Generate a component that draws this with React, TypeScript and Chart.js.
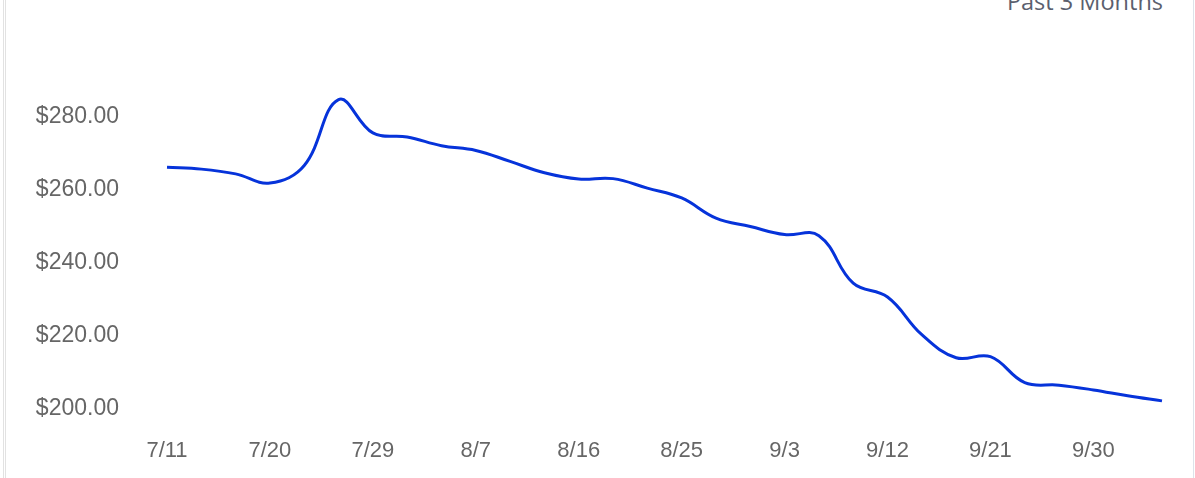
import React, { useEffect, useRef } from "react";
import { Chart, registerables } from "chart.js";

Chart.register(...registerables);

const dates = [
  "7/11", "7/14", "7/17", "7/20", "7/23", "7/26", "7/29", "8/1", "8/4", "8/7",
  "8/10", "8/13", "8/16", "8/19", "8/22", "8/25", "8/28", "8/31", "9/3", "9/6",
  "9/9", "9/12", "9/15", "9/18", "9/21", "9/24", "9/27", "9/30", "10/3", "10/6",
];

const prices = [
  265.3, 264.8, 263.5, 261.0, 265.8, 283.8, 274.7, 273.6, 271.2, 269.9,
  266.9, 263.8, 262.1, 262.2, 259.6, 256.9, 251.4, 249.1, 246.9, 246.6,
  233.6, 229.8, 219.5, 213.2, 213.5, 206.4, 205.7, 204.4, 202.8, 201.4,
];

const yTickValues = [200, 220, 240, 260, 280];
const title = "Past 3 Months";

export default function App() {
  const ref = useRef<HTMLCanvasElement | null>(null);

  useEffect(() => {
    if (!ref.current) return;
    const chart = new Chart(ref.current, {
      type: "line",
      data: {
        labels: dates,
        datasets: [
          {
            data: prices,
            borderColor: "#0633da",
            borderWidth: 3,
            pointRadius: 0,
            pointHoverRadius: 0,
            tension: 0.4,
            fill: false,
          },
        ],
      },
      options: {
        responsive: false,
        animation: false,
        layout: { padding: { top: 77, right: 33, bottom: 0, left: 0 } },
        plugins: { legend: { display: false }, tooltip: { enabled: false } },
        scales: {
          x: {
            offset: false,
            grid: { display: false },
            border: { display: false },
            ticks: {
              autoSkip: false,
              maxRotation: 0,
              color: "#666",
              font: { family: "'Liberation Sans', Arial, sans-serif", size: 22 },
              padding: 24,
              callback: (_v, i) => (i % 3 === 0 ? dates[i] : ""),
            },
            afterFit: (s: any) => {
              s.height = 72;
            },
          },
          y: {
            min: 200,
            max: 290,
            grid: { display: false },
            border: { display: false },
            afterBuildTicks: (s: any) => {
              s.ticks = yTickValues.map((v) => ({ value: v }));
            },
            ticks: {
              color: "#666",
              font: { family: "'Liberation Sans', Arial, sans-serif", size: 23 },
              padding: 40,
              labelOffset: 3,
              callback: (v) => "$" + Number(v).toFixed(2),
            },
            afterFit: (s: any) => {
              s.width = 167;
            },
          },
        },
      },
    });
    return () => chart.destroy();
  }, []);

  return (
    <div style={{ position: "fixed", left: 0, top: 0, width: 1195, height: 478, background: "#fff", overflow: "hidden" }}>
      <div style={{ position: "absolute", left: 3, top: 0, width: 1, height: 478, background: "#e2e2e2" }} />
      <div style={{ position: "absolute", left: 5, top: 0, width: 1, height: 478, background: "#e2e2e2" }} />
      <div style={{ position: "absolute", left: 1193, top: 0, width: 1, height: 478, background: "#dde3ea" }} />
      <div
        style={{
          position: "absolute",
          right: 32,
          top: -13,
          fontFamily: "'Open Sans', sans-serif",
          fontSize: 23.5,
          color: "#5b5f6e",
          lineHeight: "28px",
          whiteSpace: "nowrap",
        }}
      >
        {title}
      </div>
      <canvas ref={ref} width={1195} height={478} style={{ position: "absolute", left: 0, top: 0, display: "block" }} />
    </div>
  );
}
